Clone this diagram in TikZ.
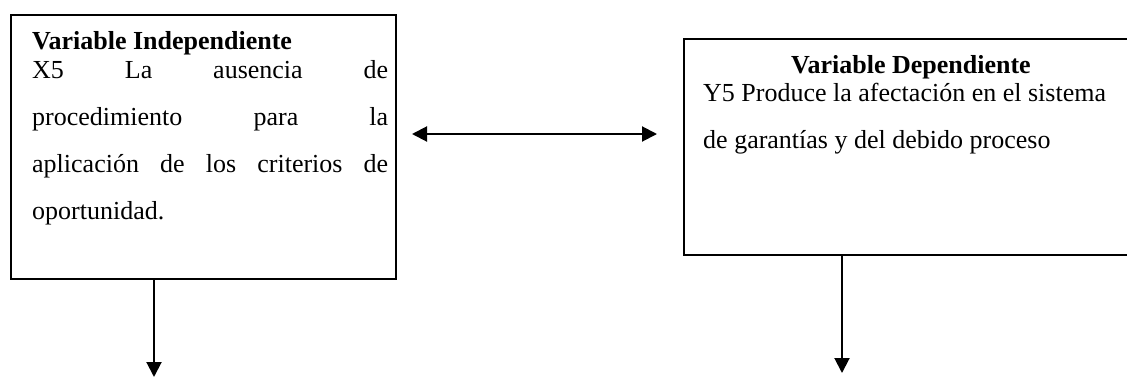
\documentclass[tikz,border=0pt]{standalone}
\usepackage{fontspec}
\setmainfont{Liberation Serif}
\usetikzlibrary{arrows.meta}
\begin{document}
\begin{tikzpicture}[x=1pt,y=-1pt,
  box/.style={draw, line width=1.6pt, inner sep=0pt, anchor=north west},
  txt/.style={inner sep=0pt, anchor=base west},
  arr/.style={line width=2pt, -{Triangle[length=15pt,width=15pt]}},
  dblarr/.style={line width=2pt, {Triangle[length=15pt,width=15pt]}-{Triangle[length=15pt,width=15pt]}}]
\useasboundingbox (0,0) rectangle (1127,378);
\node[box, minimum width=385pt, minimum height=264pt] (L) at (10,14) {};
\node[box, minimum width=460pt, minimum height=216pt] (R) at (683,38) {};
\node[txt] (LT) at (32,49) {\fontsize{26}{30}\selectfont\bfseries Variable Independiente};
\node[txt] (LB) at (32,78) {\parbox[t]{356pt}{\fontsize{26}{47}\selectfont\hyphenpenalty=10000 X5 La ausencia de\linebreak procedimiento para la\linebreak aplicación de los criterios de\linebreak oportunidad.}};
\node[inner sep=0pt, anchor=base] (RT) at (911,73) {\fontsize{26}{30}\selectfont\bfseries Variable Dependiente};
\node[txt] (RB) at (703,101) {\parbox[t]{430pt}{\fontsize{26}{47}\selectfont\raggedright Y5 Produce la afectación en el sistema\\ de garantías y del debido proceso}};
\coordinate (ld) at (154,377);
\coordinate (rd) at (842,373);
\coordinate (da) at (412,134);
\coordinate (db) at (657,134);
\draw[arr] (L.south -| ld) -- (ld);
\draw[arr] (R.south -| rd) -- (rd);
\draw[dblarr] (da) -- (db);
\end{tikzpicture}
\end{document}
